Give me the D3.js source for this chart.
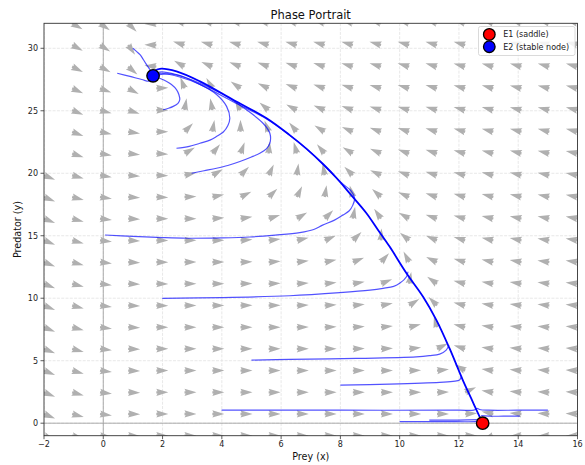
<!DOCTYPE html>
<html lang="en">
<head>
<meta charset="UTF-8" />
<title>Phase Portrait</title>
<style>
  body { margin: 0; background: white; }
  svg { display: block; font-family: "DejaVu Sans", "Liberation Sans", sans-serif; }
  .tick-label { font-size: 8px; fill: #222; }
  .axis-label { font-size: 9.6px; fill: #111; }
  .legend-text { font-size: 8px; fill: #222; }
</style>
</head>
<body>
<svg width="585" height="465"></svg>
<script src="https://d3js.org/d3.v7.min.js"></script>
<script>
// quiver grid (prey x, predator y)
const gridX = [-2, -1.05, -0.11, 0.84, 1.79, 2.74, 3.68, 4.63, 5.58, 6.53, 7.47, 8.42, 9.37, 10.32, 11.26, 12.21, 13.16, 14.11, 15.05, 16];
const gridY = [-1, 0.74, 2.47, 4.21, 5.95, 7.68, 9.42, 11.16, 12.89, 14.63, 16.37, 18.1, 19.84, 21.58, 23.32, 25.05, 26.79, 28.53, 30.26, 32];

// arrow direction in degrees (0 = right, 90 = up), one row per gridY value, bottom row first
const arrowAngles = [
  [-22,-15,-7,-2,0,0,0,0,0,0,0,0,0,0,0,0,200,182,181,181],
  [-22,-15,-7,-2,0,0,0,0,0,0,0,0,0,0,0,3,168,175,177,178],
  [-22,-15,-7,-2,0,0,0,0,0,0,0,0,0,0,2,25,171,175,177,177],
  [-22,-15,-7,-2,0,0,0,0,0,0,0,0,1,2,6,150,172,175,176,177],
  [-22,-15,-7,-2,0,0,0,0,0,0,1,2,3,6,26,163,172,175,176,176],
  [-22,-15,-7,-2,0,0,0,0,0,1,2,3,6,14,105,166,172,174,175,175],
  [-22,-15,-7,-2,-1,0,0,1,1,2,3,6,11,33,135,166,171,173,174,175],
  [-22,-15,-7,-3,-1,0,0,1,2,4,6,10,22,80,145,166,170,172,173,174],
  [-22,-15,-7,-3,-1,0,0,2,4,6,11,21,48,118,155,164,168,170,172,172],
  [-22,-15,-7,-3,-1,0,1,4,7,13,23,44,88,140,157,164,167,169,171,171],
  [-22,-15,-7,-3,-1,0,4,9,18,31,45,79,125,150,161,165,167,168,169,170],
  [-22,-15,-8,-4,-2,2,12,26,44,64,81,105,138,157,162,164,166,167,168,169],
  [-22,-16,-9,-5,-2,12,30,45,65,82,100,135,155,160,163,165,166,167,168,169],
  [null,-18,-10,-6,-3,30,50,70,85,105,130,148,156,160,162,164,165,166,167,168],
  [null,-20,-12,-8,0,45,80,90,110,130,148,156,160,162,163,164,165,165,166,166],
  [null,-22,-15,-18,0,80,100,118,140,152,157,160,162,163,164,165,165,166,166,166],
  [null,-24,-20,-28,3,110,120,145,155,159,161,162,163,164,164,165,165,166,166,166],
  [null,-26,-28,-40,175,150,157,159,160,161,162,163,163,164,164,165,165,165,165,165],
  [null,-28,-32,-55,178,163,164,164,164,164,164,164,164,164,164,164,164,164,164,164],
  [null,-30,-35,-45,183,165,165,165,165,164,164,164,164,164,163,163,163,163,163,163]
];

// heteroclinic connection E1 -> E2 (thick line)
const manifold = [[12.8,0],[12.7,0.5],[12.41,2.0],[12.13,3.45],[11.68,6.0],[11.24,8.25],[10.79,10.12],[10.23,12.0],[9.66,14.13],[9.27,15.46],[8.88,16.8],[8.31,18.4],[7.87,19.62],[7.42,20.72],[6.86,21.95],[6.29,23.05],[5.51,24.4],[4.38,25.88],[3.26,27.35],[2.47,28.15],[1.91,28.36],[1.75,28.2],[1.68,27.8]];

// sample trajectories (thin lines)
const trajectories = [
  [[1.0,30.0],[1.12,29.75],[1.24,29.5],[1.35,29.1],[1.47,28.65],[1.57,28.3],[1.68,27.8]],
  [[0.47,28.0],[0.9,27.75],[1.3,27.5],[1.57,27.38],[1.68,27.8]],
  [[2.02,25.08],[2.2,25.2],[2.36,25.35],[2.52,25.6],[2.58,25.88],[2.55,26.3],[2.47,26.7],[2.3,27.1],[2.14,27.35],[1.9,27.6],[1.68,27.8]],
  [[2.47,22.0],[2.9,22.15],[3.26,22.4],[3.6,22.65],[3.82,22.94],[4.05,23.3],[4.2,23.8],[4.27,24.4],[4.16,25.35],[3.82,26.3],[3.26,27.1],[2.58,27.7],[1.91,28.0],[1.68,27.8]],
  [[2.98,20.0],[3.4,20.2],[3.82,20.4],[4.2,20.62],[4.61,20.94],[5.0,21.3],[5.28,21.6],[5.5,21.95],[5.62,22.4],[5.62,23.2],[5.39,24.0],[4.83,25.08],[4.16,26.15],[3.26,27.2],[2.47,27.9],[1.9,28.1],[1.68,27.8]],
  [[0.06,15.06],[1.0,14.95],[2.0,14.85],[2.82,14.8],[4.0,14.83],[4.95,14.9],[5.8,15.05],[6.63,15.25],[7.1,15.5],[7.4,15.85],[7.8,16.25],[8.08,16.65],[8.3,17.0],[8.42,17.45],[8.48,18.0],[8.36,18.6],[8.1,19.1],[7.87,19.62],[7.42,20.72],[6.86,21.95],[6.29,23.05],[5.51,24.35],[4.38,25.72],[3.4,26.95],[2.7,27.7],[2.2,27.95],[1.68,27.8]],
  [[1.99,9.99],[4.0,10.05],[6.29,10.2],[7.98,10.45],[9.0,10.65],[9.44,10.79],[9.8,10.95],[10.0,11.19],[10.23,11.72],[10.28,12.12]],
  [[5.0,5.05],[6.29,5.1],[8.54,5.18],[10.56,5.31],[11.0,5.4],[11.35,5.53],[11.57,5.85],[11.66,6.25]],
  [[8.0,3.04],[9.66,3.12],[11.35,3.26],[11.8,3.35],[12.02,3.45],[12.08,3.75]],
  [[3.99,1.04],[8.0,1.04],[12.0,1.04],[12.5,1.05],[12.62,1.2]],
  [[15.0,1.04],[14.0,1.04],[13.0,1.04],[12.7,1.1],[12.62,1.2]],
  [[14.05,0.56],[13.5,0.56],[13.0,0.56],[12.75,0.6]],
  [[10.0,0.13],[11.5,0.13],[12.6,0.15],[12.75,0.25]],
  [[11.0,0.25],[12.0,0.25],[12.72,0.28]]
];

const equilibria = [
  { name: "E1 (saddle)", x: 12.8, y: 0, color: "#ff0000" },
  { name: "E2 (stable node)", x: 1.68, y: 27.8, color: "#0000ff" }
];

const xTicks = [-2, 0, 2, 4, 6, 8, 10, 12, 14, 16];
const yTicks = [0, 5, 10, 15, 20, 25, 30];

const svg = d3.select("svg");
const plotLeft = 44, plotRight = 577.5, plotTop = 23.3, plotBottom = 435.7;

const x = d3.scaleLinear().domain([-2, 16]).range([plotLeft, plotRight]);
const y = d3.scaleLinear().domain([-1, 32]).range([plotBottom, plotTop]);

svg.append("defs").append("clipPath").attr("id", "plot-clip")
  .append("rect")
  .attr("x", plotLeft).attr("y", plotTop)
  .attr("width", plotRight - plotLeft).attr("height", plotBottom - plotTop);

const plot = svg.append("g").attr("clip-path", "url(#plot-clip)");

// dashed grid, very faint
plot.append("g").selectAll("line").data(xTicks).join("line")
  .attr("x1", d => x(d)).attr("x2", d => x(d))
  .attr("y1", plotTop).attr("y2", plotBottom)
  .attr("stroke", "#e2e2e2").attr("stroke-width", 0.8)
  .attr("stroke-dasharray", "3,1.3");
plot.append("g").selectAll("line").data(yTicks).join("line")
  .attr("x1", plotLeft).attr("x2", plotRight)
  .attr("y1", d => y(d)).attr("y2", d => y(d))
  .attr("stroke", "#e2e2e2").attr("stroke-width", 0.8)
  .attr("stroke-dasharray", "3,1.3");

// zero lines
plot.append("line")
  .attr("x1", x(0)).attr("x2", x(0)).attr("y1", plotTop).attr("y2", plotBottom)
  .attr("stroke", "#999").attr("stroke-width", 0.8);
plot.append("line")
  .attr("x1", plotLeft).attr("x2", plotRight).attr("y1", y(0)).attr("y2", y(0))
  .attr("stroke", "#999").attr("stroke-width", 0.8);

// quiver arrows: short matplotlib arrows collapse to a head-only triangle
const L = 12;
const arrowShape = [[0,-0.1*L],[0.1*L,-0.1*L],[0,-0.3*L],[L,0],[0,0.3*L],[0.1*L,0.1*L],[0,0.1*L]];
const arrowPath = "M" + arrowShape.map(p => p.join(",")).join("L") + "Z";

const arrows = [];
arrowAngles.forEach((row, j) => {
  row.forEach((a, i) => {
    if (a !== null) arrows.push({ gx: gridX[i], gy: gridY[j], angle: a });
  });
});

plot.append("g").selectAll("path").data(arrows).join("path")
  .attr("d", arrowPath)
  .attr("fill", "#b0b0b0")
  .attr("transform", d => `translate(${x(d.gx)},${y(d.gy)}) rotate(${-d.angle})`);

// trajectories
const line = d3.line()
  .x(d => x(d[0]))
  .y(d => y(d[1]))
  .curve(d3.curveCatmullRom.alpha(0.5));

plot.append("g").selectAll("path").data(trajectories).join("path")
  .attr("d", line)
  .attr("fill", "none")
  .attr("stroke", "#0000ff")
  .attr("stroke-opacity", 0.68)
  .attr("stroke-width", 1.2);

plot.append("path")
  .attr("d", line(manifold))
  .attr("fill", "none")
  .attr("stroke", "#0000ff")
  .attr("stroke-width", 1.8);

// equilibrium points
svg.append("g").selectAll("circle").data(equilibria).join("circle")
  .attr("cx", d => x(d.x)).attr("cy", d => y(d.y))
  .attr("r", 6.2)
  .attr("fill", d => d.color)
  .attr("stroke", "#000").attr("stroke-width", 1.4);

// frame
svg.append("rect")
  .attr("x", plotLeft).attr("y", plotTop)
  .attr("width", plotRight - plotLeft).attr("height", plotBottom - plotTop)
  .attr("fill", "none").attr("stroke", "#333").attr("stroke-width", 0.9);

// ticks
const xt = svg.append("g");
xt.selectAll("line").data(xTicks).join("line")
  .attr("x1", d => x(d)).attr("x2", d => x(d))
  .attr("y1", plotBottom).attr("y2", plotBottom + 3.5)
  .attr("stroke", "#333").attr("stroke-width", 0.8);
xt.selectAll("text").data(xTicks).join("text")
  .attr("class", "tick-label")
  .attr("x", d => x(d)).attr("y", plotBottom + 11.5)
  .attr("text-anchor", "middle")
  .text(d => d < 0 ? "\u2212" + Math.abs(d) : d);

const yt = svg.append("g");
yt.selectAll("line").data(yTicks).join("line")
  .attr("x1", plotLeft - 3.5).attr("x2", plotLeft)
  .attr("y1", d => y(d)).attr("y2", d => y(d))
  .attr("stroke", "#333").attr("stroke-width", 0.8);
yt.selectAll("text").data(yTicks).join("text")
  .attr("class", "tick-label")
  .attr("x", plotLeft - 6).attr("y", d => y(d))
  .attr("dy", "0.35em")
  .attr("text-anchor", "end")
  .text(d => d);

// labels
svg.append("text")
  .attr("x", (plotLeft + plotRight) / 2).attr("y", 18.5)
  .attr("text-anchor", "middle")
  .attr("font-size", "11.5px").attr("fill", "#111")
  .text("Phase Portrait");

svg.append("text")
  .attr("class", "axis-label")
  .attr("x", (plotLeft + plotRight) / 2).attr("y", 459.5)
  .attr("text-anchor", "middle")
  .text("Prey (x)");

svg.append("text")
  .attr("class", "axis-label")
  .attr("transform", `translate(21,${(plotTop + plotBottom) / 2}) rotate(-90)`)
  .attr("text-anchor", "middle")
  .text("Predator (y)");

// legend
const legend = svg.append("g");
legend.append("rect")
  .attr("x", 478.5).attr("y", 26.5)
  .attr("width", 96.5).attr("height", 29)
  .attr("rx", 2)
  .attr("fill", "white").attr("fill-opacity", 0.85)
  .attr("stroke", "#d0d0d0").attr("stroke-width", 0.8);

const items = legend.selectAll("g.item").data(equilibria).join("g")
  .attr("class", "item")
  .attr("transform", (d, i) => `translate(489.3,${34.4 + i * 12.3})`);
items.append("circle")
  .attr("r", 5.8)
  .attr("fill", d => d.color)
  .attr("stroke", "#000").attr("stroke-width", 1.3);
items.append("text")
  .attr("class", "legend-text")
  .attr("x", 14).attr("dy", "0.35em")
  .text(d => d.name);
</script>
</body>
</html>
